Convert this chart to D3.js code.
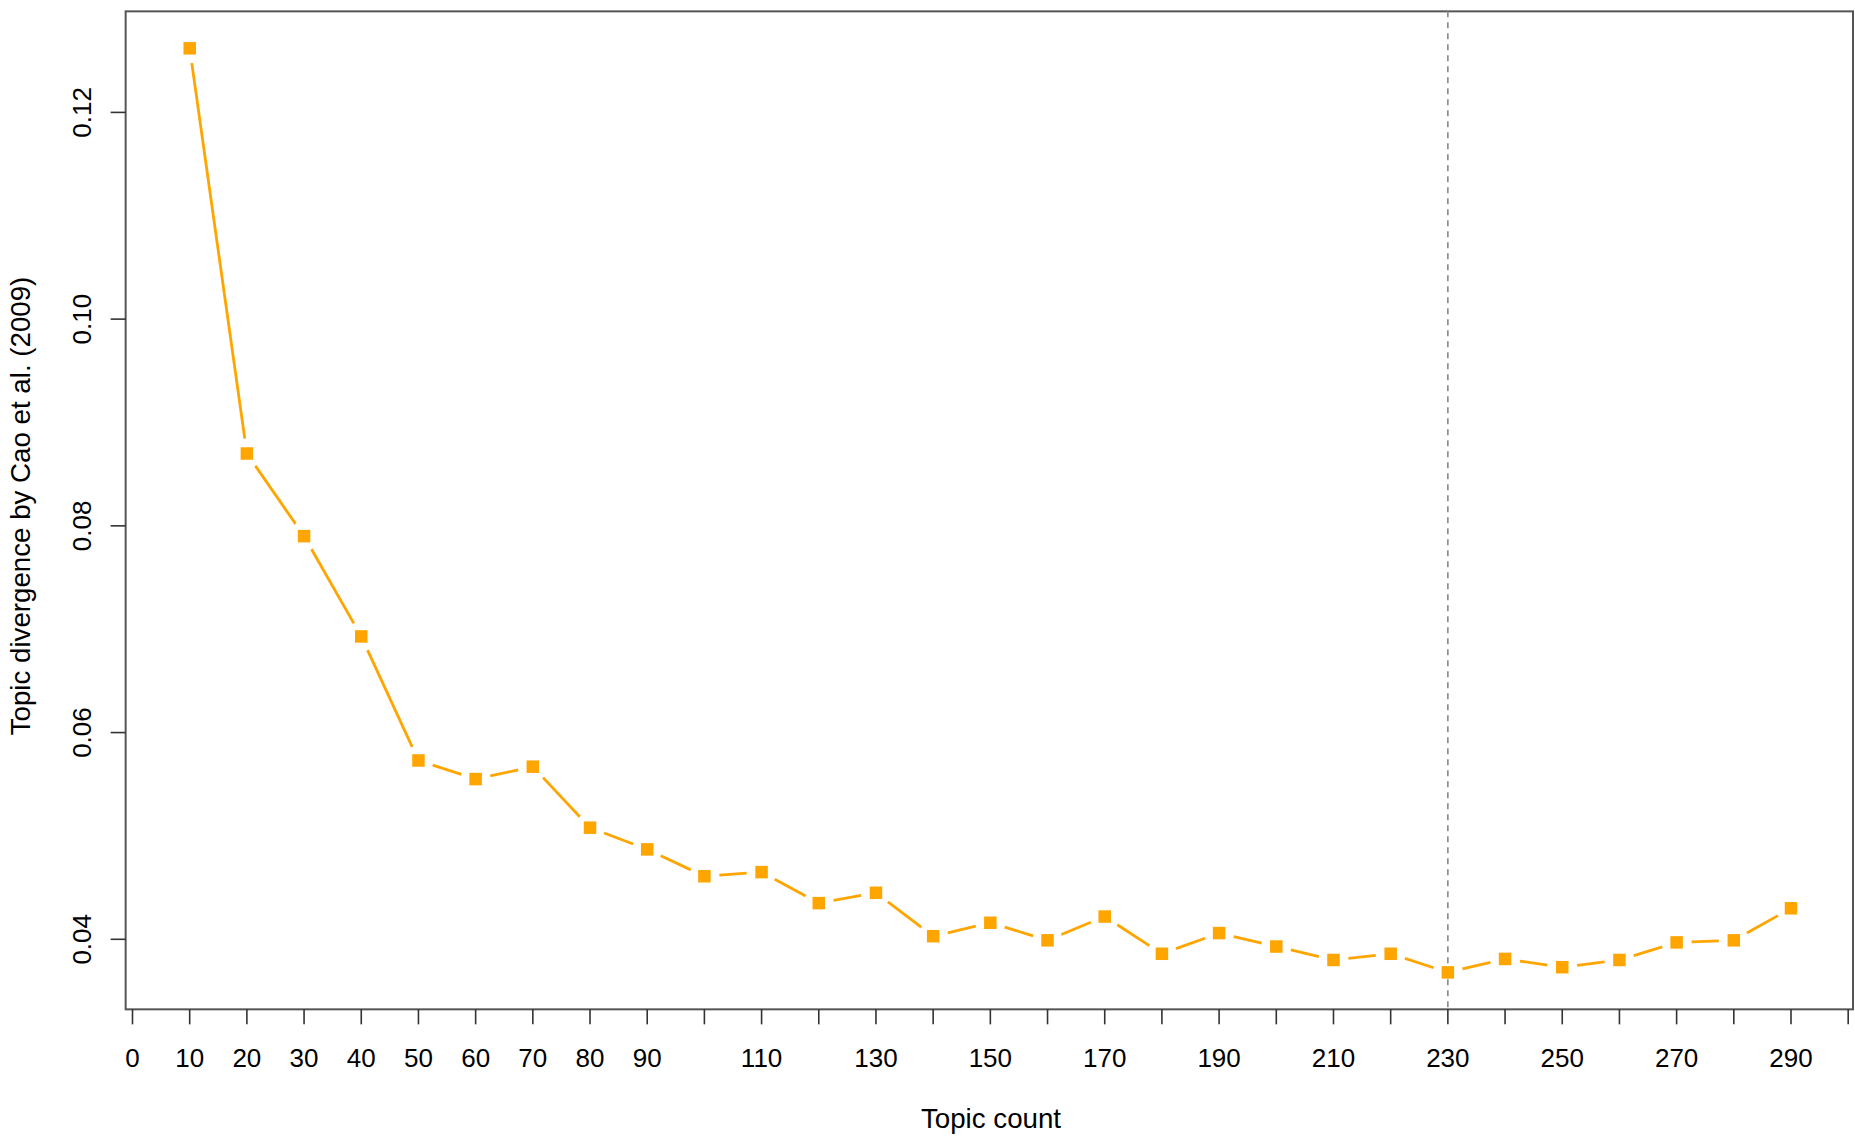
<!DOCTYPE html>
<html>
<head>
<meta charset="utf-8">
<script src="https://cdn.jsdelivr.net/npm/d3@7"></script>
<style>
  html, body { margin: 0; padding: 0; background: #fff; }
  svg { display: block; }
  text { font-family: "Liberation Sans", Arial, sans-serif; fill: #000; }
</style>
</head>
<body>
<script>
// ---- data ----
const topicCounts = [10,20,30,40,50,60,70,80,90,100,110,120,130,140,150,160,170,180,190,200,210,220,230,240,250,260,270,280,290];
const divergence = [0.1262,0.0870,0.0790,0.0693,0.0573,0.0555,0.0567,0.0508,0.0487,0.0461,0.0465,0.0435,0.0445,0.0403,0.0416,0.0399,0.0422,0.0386,0.0406,0.0393,0.0380,0.0386,0.0368,0.0381,0.0373,0.0380,0.0397,0.0399,0.0430];
const xTickValues = d3.range(0, 301, 10);
const xTickLabels = [0,10,20,30,40,50,60,70,80,90,110,130,150,170,190,210,230,250,270,290];
const yTickValues = [0.04, 0.06, 0.08, 0.10, 0.12];
const markerLine = 230;
const xTitle = "Topic count";
const yTitle = "Topic divergence by Cao et al. (2009)";

(function () {
const W = 1855, H = 1136;
const svg = d3.select("body").append("svg").attr("width", W).attr("height", H);

const x = d3.scaleLinear().domain([0, 290]).range([132.5, 1791]);
const y = d3.scaleLinear().domain([0.04, 0.12]).range([939.3, 112.4]);

const xr = d3.extent(topicCounts), yr = d3.extent(divergence);
const xPad = (xr[1] - xr[0]) * 0.04, yPad = (yr[1] - yr[0]) * 0.04;
const boxL = x(xr[0] - xPad), boxR = Math.min(x(xr[1] + xPad), W - 2);
const boxT = y(yr[1] + yPad), boxB = y(yr[0] - yPad);

// box
svg.append("rect")
  .attr("x", boxL).attr("y", boxT)
  .attr("width", boxR - boxL).attr("height", boxB - boxT)
  .attr("fill", "none").attr("stroke", "#555").attr("stroke-width", 2);

// x axis ticks
const xAxis = svg.append("g").attr("transform", `translate(0,${boxB})`);
xAxis.selectAll("line").data(xTickValues).join("line")
  .attr("x1", d => x(d)).attr("x2", d => x(d))
  .attr("y1", 0).attr("y2", 15)
  .attr("stroke", "#333").attr("stroke-width", 1.6);
xAxis.selectAll("text").data(xTickLabels).join("text")
  .attr("x", d => x(d)).attr("y", 1067 - boxB)
  .attr("text-anchor", "middle").attr("font-size", "26px")
  .text(d => d);

// y axis ticks
const yAxis = svg.append("g").attr("transform", `translate(${boxL},0)`);
yAxis.selectAll("line").data(yTickValues).join("line")
  .attr("x1", 0).attr("x2", -15)
  .attr("y1", d => y(d)).attr("y2", d => y(d))
  .attr("stroke", "#333").attr("stroke-width", 1.6);
yAxis.selectAll("text").data(yTickValues).join("text")
  .attr("transform", d => `translate(${91 - boxL},${y(d)}) rotate(-90)`)
  .attr("text-anchor", "middle").attr("font-size", "26px")
  .text(d => d3.format(".2f")(d));

// titles
svg.append("text")
  .attr("x", 991).attr("y", 1128)
  .attr("text-anchor", "middle").attr("font-size", "27.7px")
  .text(xTitle);
svg.append("text")
  .attr("transform", `translate(30,506) rotate(-90)`)
  .attr("text-anchor", "middle").attr("font-size", "27.7px")
  .text(yTitle);

// vertical dashed marker
svg.append("line")
  .attr("x1", x(markerLine)).attr("x2", x(markerLine))
  .attr("y1", boxT).attr("y2", boxB)
  .attr("stroke", "#888").attr("stroke-width", 1.6)
  .attr("stroke-dasharray", "6,5");

// line segments with gaps (type = "b")
const pts = topicCounts.map((t, i) => [x(t), y(divergence[i])]);
const gap = 15;
const segs = [];
for (let i = 0; i < pts.length - 1; i++) {
  const [x1, y1] = pts[i], [x2, y2] = pts[i + 1];
  const dx = x2 - x1, dy = y2 - y1, L = Math.hypot(dx, dy);
  if (L > 2 * gap) {
    const ux = dx / L, uy = dy / L;
    segs.push([x1 + ux * gap, y1 + uy * gap, x2 - ux * gap, y2 - uy * gap]);
  }
}
svg.append("g").selectAll("line").data(segs).join("line")
  .attr("x1", d => d[0]).attr("y1", d => d[1])
  .attr("x2", d => d[2]).attr("y2", d => d[3])
  .attr("stroke", "#FFA500").attr("stroke-width", 2.8);

// square markers
const s = 12.5;
svg.append("g").selectAll("rect").data(topicCounts).join("rect")
  .attr("x", (d) => x(d) - s / 2)
  .attr("y", (d, i) => y(divergence[i]) - s / 2)
  .attr("width", s).attr("height", s)
  .attr("fill", "#FFA500");
})();
</script>
</body>
</html>
